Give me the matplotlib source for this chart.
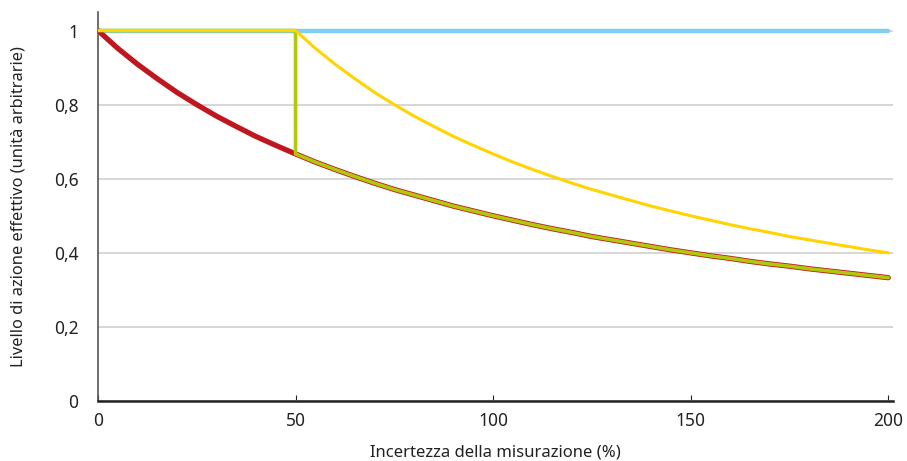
import matplotlib.pyplot as plt
from matplotlib.ticker import FixedLocator

plt.rcParams["font.family"] = ["Noto Sans", "DejaVu Sans"]

# incertezza (%) e livelli
x_vals = [0, 5, 10, 15, 20, 25, 30, 35, 40, 45, 50, 55, 60, 65, 70, 75, 80, 85, 90, 95, 100,
          105, 110, 115, 120, 125, 130, 135, 140, 145, 150, 155, 160, 165, 170, 175, 180,
          185, 190, 195, 200]
red_vals = [1.000, 0.952, 0.909, 0.870, 0.833, 0.800, 0.769, 0.741, 0.714, 0.690, 0.667,
            0.645, 0.625, 0.606, 0.588, 0.571, 0.556, 0.541, 0.526, 0.513, 0.500,
            0.488, 0.476, 0.465, 0.455, 0.444, 0.435, 0.426, 0.417, 0.408, 0.400,
            0.392, 0.385, 0.377, 0.370, 0.364, 0.357, 0.351, 0.345, 0.339, 0.333]
yellow_vals = [1.0, 1.0, 1.0, 1.0, 1.0, 1.0, 1.0, 1.0, 1.0, 1.0, 1.0,
               0.952, 0.909, 0.870, 0.833, 0.800, 0.769, 0.741, 0.714, 0.690, 0.667,
               0.645, 0.625, 0.606, 0.588, 0.571, 0.556, 0.541, 0.526, 0.513, 0.500,
               0.488, 0.476, 0.465, 0.455, 0.444, 0.435, 0.426, 0.417, 0.408, 0.400]
blue_x = [0, 200]
blue_vals = [1.0, 1.0]
green_x = [0, 50] + x_vals[10:]
green_vals = [1.0, 1.0] + red_vals[10:]

y_ticks = [0, 0.2, 0.4, 0.6, 0.8, 1.0]
y_labels = ["0", "0,2", "0,4", "0,6", "0,8", "1"]
x_ticks = [0, 50, 100, 150, 200]

fig = plt.figure(figsize=(9.07, 4.61), dpi=100)
ax = fig.add_axes([0.108, 0.130, 0.877, 0.844])

ax.plot(blue_x, blue_vals, color="#80cef0", linewidth=3.2, solid_capstyle="round", zorder=3)
ax.plot(x_vals, red_vals, color="#c0161f", linewidth=3.8, solid_capstyle="round", zorder=4)
ax.plot(green_x, green_vals, color="#b2c80c", linewidth=2.6, solid_capstyle="round", zorder=5)
ax.plot(x_vals, yellow_vals, color="#ffd400", linewidth=2.2, solid_capstyle="round", zorder=6)

ax.set_xlim(0, 201.3)
ax.set_ylim(0, 1.05)
ax.yaxis.set_major_locator(FixedLocator(y_ticks))
ax.set_yticklabels(y_labels)
ax.set_xticks(x_ticks)
ax.grid(axis="y", color="#d0d0d0", linewidth=1.2)
ax.set_axisbelow(True)

for side in ["top", "right"]:
    ax.spines[side].set_visible(False)
ax.spines["left"].set_color("#555555")
ax.spines["left"].set_linewidth(1.2)
ax.spines["bottom"].set_color("#222222")
ax.spines["bottom"].set_linewidth(1.8)
ax.tick_params(axis="y", length=0, pad=14, labelsize=12.5, colors="#222222")
ax.tick_params(axis="x", direction="in", length=4, pad=8, labelsize=12.5, colors="#222222")

ax.set_xlabel("Incertezza della misurazione (%)", fontsize=12, labelpad=10, color="#222222")
ax.set_ylabel("Livello di azione effettivo (unità arbitrarie)", fontsize=11.8, labelpad=20, color="#222222")

fig.savefig("out.png", dpi=100)
